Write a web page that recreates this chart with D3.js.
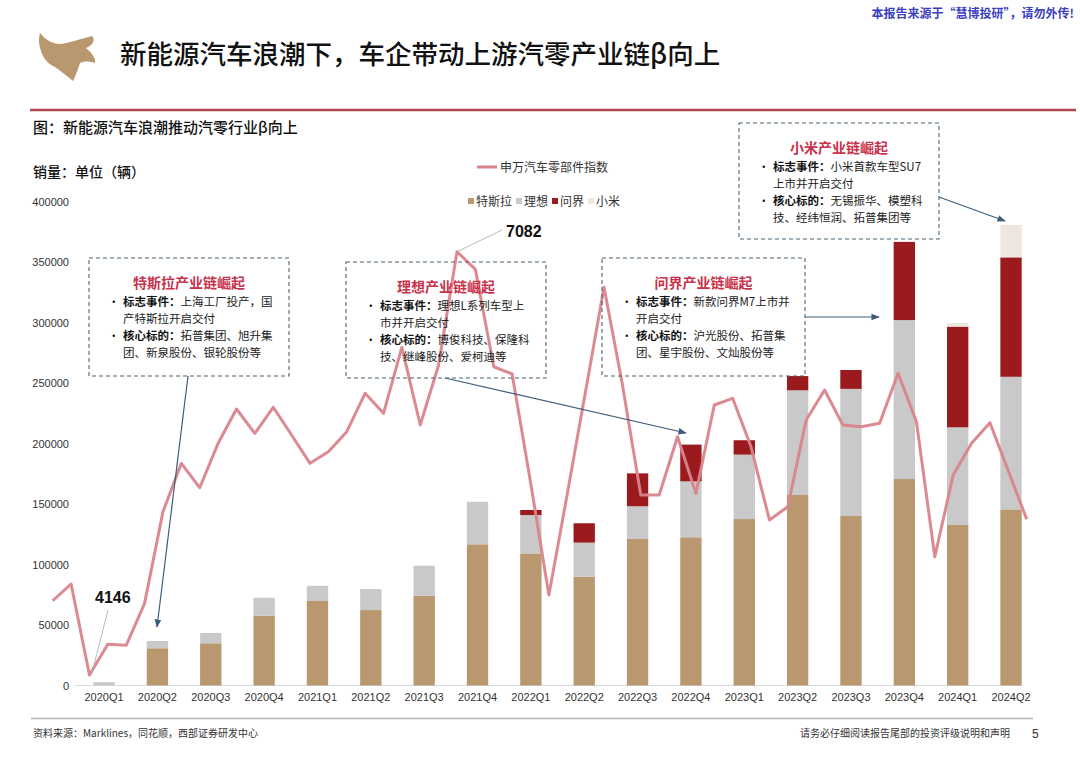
<!DOCTYPE html>
<html><head><meta charset="utf-8">
<script src="https://cdn.jsdelivr.net/npm/d3@7/dist/d3.min.js"></script>
<style>
html,body{margin:0;padding:0;background:#fff;}
svg{display:block;}
.cjk{font-family:"Noto Sans CJK SC","Noto Sans",sans-serif;}
.num{font-family:"Liberation Sans Narrow","Liberation Sans",Arial,sans-serif;}
</style></head>
<body>
<svg id="c" width="1080" height="763"></svg>
<script>
// ---------- data ----------
const quarters = ["2020Q1","2020Q2","2020Q3","2020Q4","2021Q1","2021Q2","2021Q3","2021Q4","2022Q1","2022Q2","2022Q3","2022Q4","2023Q1","2023Q2","2023Q3","2023Q4","2024Q1","2024Q2"];
const tesla  = [0,30800,34900,57700,69900,62400,74300,116800,109300,90100,121200,122600,137700,157600,140200,170800,132800,145700];
const lixiang= [2800,6000,8500,14900,12600,17400,24800,35200,31700,28100,27100,46300,53300,86600,105200,131500,80800,109700];
const wenjie = [0,0,0,0,0,0,0,0,4200,16000,27200,30400,11900,11800,15600,64700,83300,98800];
const xiaomi = [0,0,0,0,0,0,0,0,0,0,0,0,0,0,0,0,3000,26800];
const seriesNames = ["特斯拉","理想","问界","小米"];
const seriesColors = ["#b9976f","#c9c9c9","#9b1a1e","#efe6e0"];
// 申万汽车零部件指数 (monthly, 2020-01 .. 2024-06)
const indexValues = [4661,4777,4146,4359,4352,4643,5279,5614,5445,5753,5991,5822,
  6003,5811,5614,5695,5834,6100,5961,6419,5880,6296,7082,6960,
  6284,6234,5485,4701,5401,6116,6835,6161,5394,5394,5799,5406,
  6019,6065,5729,5221,5313,5915,6123,5880,5868,5892,6239,5903,
  4966,5533,5753,5896,5561,5226];
const yTicks = [0,50000,100000,150000,200000,250000,300000,350000,400000];
const lineName = "申万汽车零部件指数";

const boxes = [
  {title:"特斯拉产业链崛起", x0:89, y0:258, x1:289, y1:376,
   lines:[["标志事件：","上海工厂投产，国"],["","产特斯拉开启交付"],["核心标的：","拓普集团、旭升集"],["","团、新泉股份、银轮股份等"]]},
  {title:"理想产业链崛起", x0:346, y0:262, x1:546, y1:378,
   lines:[["标志事件：","理想L系列车型上"],["","市并开启交付"],["核心标的：","博俊科技、保隆科"],["","技、继峰股份、爱柯迪等"]]},
  {title:"问界产业链崛起", x0:602, y0:258, x1:805, y1:376,
   lines:[["标志事件：","新款问界M7上市并"],["","开启交付"],["核心标的：","沪光股份、拓普集"],["","团、星宇股份、文灿股份等"]]},
  {title:"小米产业链崛起", x0:739, y0:123, x1:939, y1:239,
   lines:[["标志事件：","小米首款车型SU7"],["","上市并开启交付"],["核心标的：","无锡振华、模塑科"],["","技、经纬恒润、拓普集团等"]]}
];

// ---------- layout ----------
const svg = d3.select("#c");
const x = d3.scaleBand().domain(quarters).range([77.4,1037.7]).paddingInner(0.6).paddingOuter(0.3);
const y = d3.scaleLinear().domain([0,400000]).range([685.5,202]);
const xL = d3.scalePoint().domain(d3.range(indexValues.length)).range([52.7,1026.7]);
const yL = d3.scaleLinear().domain([4073,7427]).range([685.5,202]);

// header
svg.append("text").attr("class","cjk").attr("x",1074).attr("y",18).attr("text-anchor","end")
  .attr("font-size",12).attr("font-weight",700).attr("fill","#3a3fc0").text("本报告来源于“慧博投研”，请勿外传!");
// bull logo
svg.append("path").attr("fill","#b9976f")
  .attr("d","M40,33 C46,40 52,44 60,44 C70,43 80,39 92,36 C96,40 92,46 86,48 C92,53 96,58 95,63 C89,61 84,61 80,63 C78,69 76,75 73,81 C67,76 61,71 55,67 C48,64 43,58 41,51 C39,45 38,39 40,33 Z");
svg.append("text").attr("class","cjk").attr("x",120).attr("y",64).attr("font-size",26.5)
  .attr("font-weight",500).attr("fill","#111").text("新能源汽车浪潮下，车企带动上游汽零产业链β向上");
svg.append("line").attr("x1",30).attr("x2",1076).attr("y1",110).attr("y2",110)
  .attr("stroke","#b0474e").attr("stroke-width",2.5);
svg.append("text").attr("class","cjk").attr("x",33).attr("y",133).attr("font-size",15)
  .attr("font-weight",500).attr("fill","#111").text("图：新能源汽车浪潮推动汽零行业β向上");
svg.append("text").attr("class","cjk").attr("x",33).attr("y",177).attr("font-size",14)
  .attr("font-weight",500).attr("fill","#111").text("销量：单位（辆）");

// legend
svg.append("line").attr("x1",477).attr("x2",497).attr("y1",167).attr("y2",167)
  .attr("stroke","#d9848c").attr("stroke-width",3);
svg.append("text").attr("class","cjk").attr("x",500).attr("y",171.5).attr("font-size",12)
  .attr("fill","#333").text(lineName);
const legX = [468,516,552,588];
seriesNames.forEach((n,i)=>{
  svg.append("rect").attr("x",legX[i]).attr("y",198).attr("width",6).attr("height",6).attr("fill",seriesColors[i]);
  svg.append("text").attr("class","cjk").attr("x",legX[i]+8).attr("y",206).attr("font-size",12)
    .attr("fill","#333").text(n);
});

// axes
const ya = svg.append("g").attr("transform","translate(69,0)")
  .call(d3.axisLeft(y).tickValues(yTicks).tickSize(0).tickPadding(0).tickFormat(d3.format("d")));
ya.select(".domain").remove();
ya.selectAll("text").attr("class","num").attr("font-size",11).attr("fill","#333");
svg.append("line").attr("x1",75).attr("x2",1022).attr("y1",685.5).attr("y2",685.5).attr("stroke","#d9d9d9").attr("stroke-width",1);
const xa = svg.append("g").attr("transform","translate(0,685.5)")
  .call(d3.axisBottom(x).tickSize(0).tickPadding(8));
xa.select(".domain").remove();
xa.selectAll("text").attr("class","num").attr("font-size",11).attr("fill","#333");

// stacked bars
const table = quarters.map((q,i)=>({q, 特斯拉:tesla[i], 理想:lixiang[i], 问界:wenjie[i], 小米:xiaomi[i]}));
const stack = d3.stack().keys(seriesNames)(table);
svg.append("g").selectAll("g").data(stack).join("g").attr("fill",(d,i)=>seriesColors[i])
  .selectAll("rect").data(d=>d).join("rect")
  .attr("x",d=>x(d.data.q)).attr("width",x.bandwidth())
  .attr("y",d=>y(d[1])).attr("height",d=>Math.max(0,y(d[0])-y(d[1])));

// index line
svg.append("path").datum(indexValues).attr("fill","none").attr("stroke","#d9848c").attr("stroke-width",3)
  .attr("stroke-linejoin","round").attr("opacity",0.95)
  .attr("d",d3.line().x((d,i)=>xL(i)).y(d=>yL(d)));

// min / max labels
const iMin = indexValues.indexOf(d3.min(indexValues)), iMax = indexValues.indexOf(d3.max(indexValues));
svg.append("line").attr("x1",xL(iMin)+2).attr("y1",yL(indexValues[iMin])).attr("x2",108).attr("y2",610)
  .attr("stroke","#aaa").attr("stroke-width",0.8);
svg.append("text").attr("class","num").attr("x",95).attr("y",603).attr("font-size",16).attr("font-weight",700)
  .attr("fill","#111").text(d3.min(indexValues));
svg.append("line").attr("x1",xL(iMax)).attr("y1",yL(indexValues[iMax])).attr("x2",502).attr("y2",230)
  .attr("stroke","#aaa").attr("stroke-width",0.8);
svg.append("text").attr("class","num").attr("x",506).attr("y",237).attr("font-size",16).attr("font-weight",700)
  .attr("fill","#111").text(d3.max(indexValues));

// arrows
const defs = svg.append("defs");
defs.append("marker").attr("id","ah").attr("viewBox","0 0 10 10").attr("refX",9).attr("refY",5)
  .attr("markerWidth",7).attr("markerHeight",7).attr("orient","auto-start-reverse")
  .append("path").attr("d","M0,1 L10,5 L0,9 Z").attr("fill","#3e5c7a");
const arrows = [[188,376,157,627],[445,378,686,433],[805,317,879,317],[939,197,1005,221]];
arrows.forEach(a=>svg.append("line").attr("x1",a[0]).attr("y1",a[1]).attr("x2",a[2]).attr("y2",a[3])
  .attr("stroke","#3e5c7a").attr("stroke-width",1.2).attr("marker-end","url(#ah)"));

// annotation boxes
boxes.forEach(b=>{
  const g = svg.append("g");
  g.append("rect").attr("x",b.x0).attr("y",b.y0).attr("width",b.x1-b.x0).attr("height",b.y1-b.y0)
    .attr("fill","#fff").attr("fill-opacity",0).attr("stroke","#4a6574").attr("stroke-width",1.1)
    .attr("stroke-dasharray","4,3");
  g.append("text").attr("class","cjk").attr("x",(b.x0+b.x1)/2).attr("y",b.y0+30).attr("text-anchor","middle")
    .attr("font-size",14).attr("font-weight",700).attr("fill","#c8334c").text(b.title);
  b.lines.forEach((l,i)=>{
    const ty = b.y0+48+i*17;
    if(l[0]) g.append("text").attr("class","cjk").attr("x",b.x0+19).attr("y",ty).attr("font-size",11.5)
      .attr("fill","#111").text("•");
    const t = g.append("text").attr("class","cjk").attr("x",b.x0+34).attr("y",ty).attr("font-size",11.5).attr("fill","#222");
    if(l[0]) t.append("tspan").attr("font-weight",700).attr("fill","#111").text(l[0]);
    t.append("tspan").text(l[1]);
  });
});

// footer
svg.append("line").attr("x1",31).attr("x2",1033).attr("y1",718.5).attr("y2",718.5).attr("stroke","#b5b5b5").attr("stroke-width",1.5);
svg.append("text").attr("class","cjk").attr("x",33).attr("y",737).attr("font-size",10).attr("fill","#333")
  .text("资料来源：Marklines，同花顺，西部证券研发中心");
svg.append("text").attr("class","cjk").attr("x",1010).attr("y",737).attr("text-anchor","end").attr("font-size",10).attr("fill","#333")
  .text("请务必仔细阅读报告尾部的投资评级说明和声明");
svg.append("text").attr("class","num").attr("x",1032).attr("y",738).attr("font-size",12).attr("fill","#333").text("5");
</script>
</body></html>
